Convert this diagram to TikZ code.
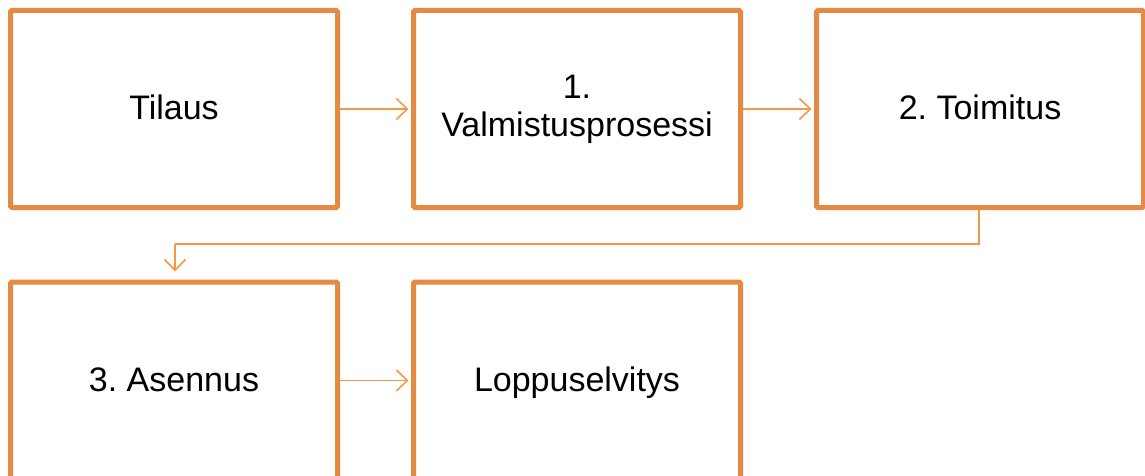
\documentclass[tikz,border=0pt]{standalone}
\usepackage{fontspec}
\setmainfont{Liberation Sans}
\usetikzlibrary{arrows.meta}
\definecolor{boxc}{RGB}{228,138,66}
\definecolor{arrc}{RGB}{247,150,70}
\frenchspacing
\newcommand{\lbltext}[1]{\raisebox{0pt}[24.5pt][2.5pt]{#1}}
\begin{document}
\begin{tikzpicture}[x=1pt,y=1pt,
  stepbox/.style={draw=boxc,line width=5pt,rounded corners=1.5pt,minimum width=327pt,minimum height=197pt,inner sep=0pt,align=center,font=\fontsize{34}{38}\selectfont\frenchspacing,fill=white},
  conn/.style={draw=arrc,line width=1.6pt,-{Straight Barb[length=11pt,width=21pt,line width=1.6pt]}}]
\useasboundingbox (0,0) rectangle (1145,-476);
\node[stepbox] (a) at (174,-109) {\lbltext{Tilaus}};
\node[stepbox] (b) at (577,-109) {1.\\Valmistusprosessi\vphantom{Tg}};
\node[stepbox] (c) at (980,-109) {\lbltext{2. Toimitus}};
\node[stepbox] (d) at (174,-380.5) {\lbltext{3. Asennus}};
\node[stepbox] (e) at (577,-380.5) {\lbltext{Loppuselvitys}};
\coordinate (k1) at (979,-244);
\coordinate (k2) at (175,-244);
\draw[conn,shorten >=2.5pt] (a.east) -- (b.west);
\draw[conn,shorten >=2.5pt] (b.east) -- (c.west);
\draw[conn,-] ([xshift=-1pt]c.south) -- (k1) -- (k2);
\draw[conn] (k2) -- ([xshift=1pt,yshift=8pt]d.north);
\draw[conn,shorten >=2.5pt] (d.east) -- (e.west);
\end{tikzpicture}
\end{document}
